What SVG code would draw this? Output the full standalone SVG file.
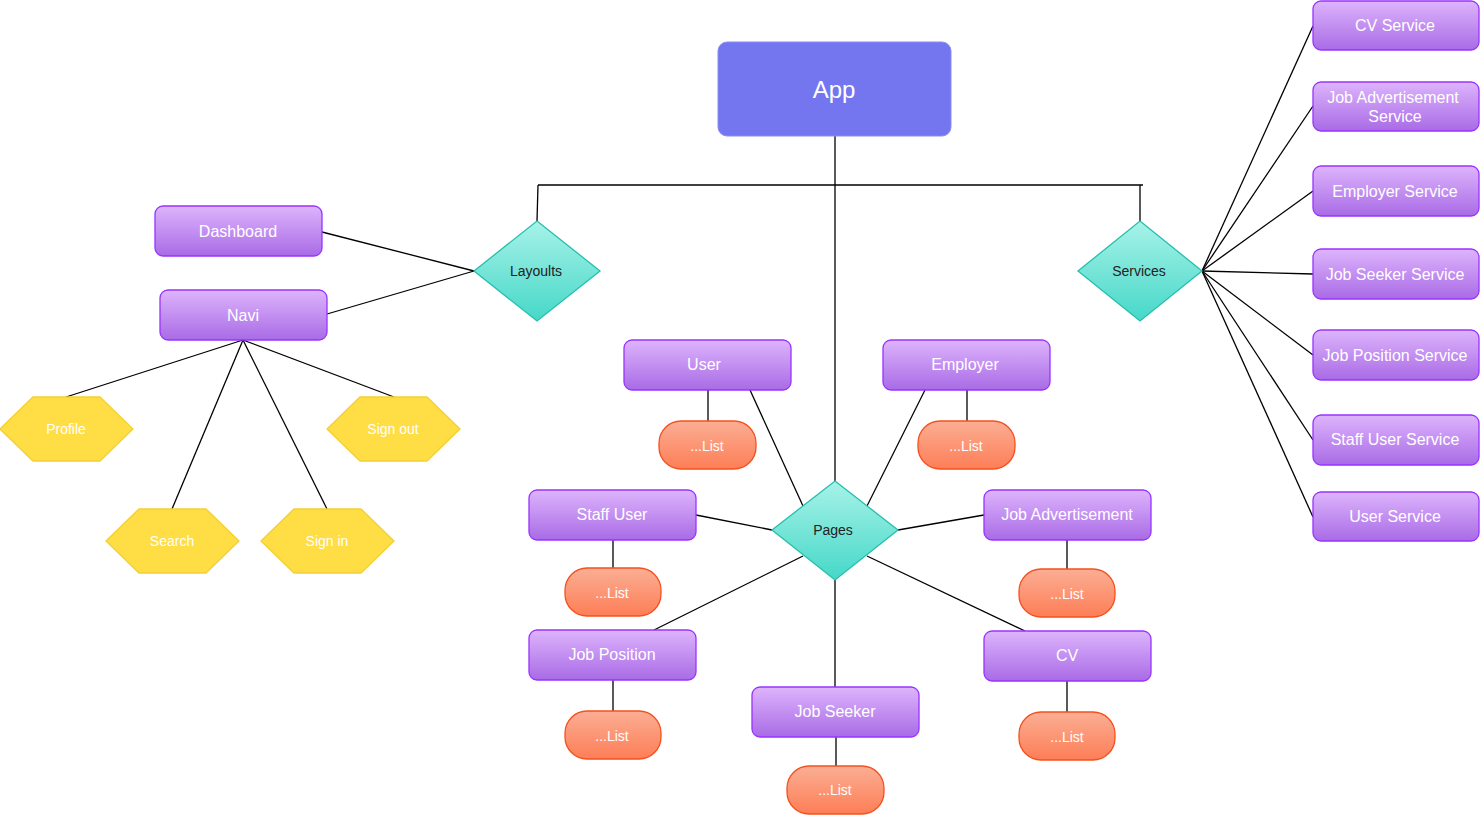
<svg xmlns="http://www.w3.org/2000/svg" width="1480" height="815" viewBox="0 0 1480 815">
<defs>
<linearGradient id="gP" x1="0" y1="0" x2="0" y2="1"><stop offset="0" stop-color="#DDB4FC"/><stop offset="1" stop-color="#A96BE6"/></linearGradient>
<linearGradient id="gO" x1="0" y1="0" x2="0" y2="1"><stop offset="0" stop-color="#FBAE94"/><stop offset="1" stop-color="#FD7E56"/></linearGradient>
<linearGradient id="gT" x1="0" y1="0" x2="0" y2="1"><stop offset="0" stop-color="#A8F2E8"/><stop offset="1" stop-color="#45D8C8"/></linearGradient>
</defs>
<style>
.p{fill:url(#gP);stroke:#9933FF;stroke-width:1.3}
.o{fill:url(#gO);stroke:#F4511E;stroke-width:1.3}
.d{fill:url(#gT);stroke:#26BFAD;stroke-width:1.3}
.h{fill:#FFDD44;stroke:#F5D033;stroke-width:1.3}
.c line,.c polyline{stroke:#000;stroke-width:1.3;fill:none}
text{font-family:"Liberation Sans",Arial,sans-serif;text-anchor:middle;dominant-baseline:central}
.tw{fill:#fff;font-size:16px}
.ts{fill:#fff;font-size:14px}
.td{fill:#222;font-size:14px}
</style>
<rect width="1480" height="815" fill="#fff"/>
<g class="c" id="connectors">
<line x1="835" y1="136" x2="835" y2="481"/>
<line x1="538" y1="185" x2="1143" y2="185"/>
<line x1="538" y1="185" x2="537" y2="221"/>
<line x1="1140" y1="185" x2="1140" y2="221"/>
<line x1="322" y1="232" x2="474" y2="271"/>
<line x1="327" y1="314" x2="474" y2="271"/>
<line x1="243" y1="340" x2="66" y2="397"/>
<line x1="243" y1="340" x2="172" y2="509"/>
<line x1="243" y1="340" x2="327" y2="509"/>
<line x1="243" y1="340" x2="394" y2="397"/>
<line x1="708" y1="390" x2="708" y2="421"/>
<line x1="750" y1="390" x2="803" y2="506"/>
<line x1="925" y1="390" x2="867" y2="506"/>
<line x1="967" y1="390" x2="967" y2="421"/>
<line x1="696" y1="515" x2="772" y2="530"/>
<line x1="984" y1="515" x2="898" y2="530"/>
<line x1="803" y1="556" x2="654" y2="630"/>
<line x1="867" y1="556" x2="1025" y2="631"/>
<line x1="835" y1="580" x2="835" y2="687"/>
<line x1="613" y1="540" x2="613" y2="568"/>
<line x1="1067" y1="540" x2="1067" y2="569"/>
<line x1="613" y1="680" x2="613" y2="711"/>
<line x1="1067" y1="681" x2="1067" y2="712"/>
<line x1="836" y1="737" x2="836" y2="766"/>
<line x1="1202" y1="271" x2="1313" y2="26"/>
<line x1="1202" y1="271" x2="1313" y2="106"/>
<line x1="1202" y1="271" x2="1313" y2="191"/>
<line x1="1202" y1="271" x2="1313" y2="274"/>
<line x1="1202" y1="271" x2="1313" y2="355"/>
<line x1="1202" y1="271" x2="1313" y2="440"/>
<line x1="1202" y1="271" x2="1313" y2="517"/>
</g>
<g id="app"><rect x="718" y="42" width="233" height="94" rx="9" fill="#7476F0" stroke="#8A8CF5" stroke-width="1"/><text x="834" y="89" fill="#fff" font-size="24">App</text></g>
<g id="layouts"><polygon class="d" points="537,221 600,271 537,321 474,271"/><text class="td" x="536" y="271">Layoults</text></g>
<g id="services"><polygon class="d" points="1140,221 1202,271 1140,321 1078,271"/><text class="td" x="1139" y="271">Services</text></g>
<g id="pages"><polygon class="d" points="835,481 898,530 835,580 772,530"/><text class="td" x="833" y="530">Pages</text></g>
<g id="dashboard"><rect class="p" x="155" y="206" width="167" height="50" rx="8"/><text class="tw" x="238" y="231">Dashboard</text></g>
<g id="navi"><rect class="p" x="160" y="290" width="167" height="50" rx="8"/><text class="tw" x="243" y="315">Navi</text></g>
<g id="profile"><polygon class="h" points="0,429 33,397 100,397 133,429 100,461 33,461"/><text class="ts" x="66" y="429">Profile</text></g>
<g id="signout"><polygon class="h" points="327,429 360,397 427,397 460,429 427,461 360,461"/><text class="ts" x="393" y="429">Sign out</text></g>
<g id="search"><polygon class="h" points="106,541 139,509 206,509 239,541 206,573 139,573"/><text class="ts" x="172" y="541">Search</text></g>
<g id="signin"><polygon class="h" points="261,541 294,509 361,509 394,541 361,573 294,573"/><text class="ts" x="327" y="541">Sign in</text></g>
<g id="user"><rect class="p" x="624" y="340" width="167" height="50" rx="8"/><text class="tw" x="704" y="364">User</text></g>
<g id="user-list"><rect class="o" x="659" y="421" width="97" height="48" rx="22"/><text class="ts" x="707" y="446">...List</text></g>
<g id="employer"><rect class="p" x="883" y="340" width="167" height="50" rx="8"/><text class="tw" x="965" y="364">Employer</text></g>
<g id="employer-list"><rect class="o" x="918" y="421" width="97" height="48" rx="22"/><text class="ts" x="966" y="446">...List</text></g>
<g id="staffuser"><rect class="p" x="529" y="490" width="167" height="50" rx="8"/><text class="tw" x="612" y="514">Staff User</text></g>
<g id="staffuser-list"><rect class="o" x="565" y="568" width="96" height="48" rx="22"/><text class="ts" x="612" y="593">...List</text></g>
<g id="jobad"><rect class="p" x="984" y="490" width="167" height="50" rx="8"/><text class="tw" x="1067" y="514">Job Advertisement</text></g>
<g id="jobad-list"><rect class="o" x="1019" y="569" width="96" height="48" rx="22"/><text class="ts" x="1067" y="594">...List</text></g>
<g id="jobposition"><rect class="p" x="529" y="630" width="167" height="50" rx="8"/><text class="tw" x="612" y="654">Job Position</text></g>
<g id="jobposition-list"><rect class="o" x="565" y="711" width="96" height="48" rx="22"/><text class="ts" x="612" y="736">...List</text></g>
<g id="cv"><rect class="p" x="984" y="631" width="167" height="50" rx="8"/><text class="tw" x="1067" y="655">CV</text></g>
<g id="cv-list"><rect class="o" x="1019" y="712" width="96" height="48" rx="22"/><text class="ts" x="1067" y="737">...List</text></g>
<g id="jobseeker"><rect class="p" x="752" y="687" width="167" height="50" rx="8"/><text class="tw" x="835" y="711">Job Seeker</text></g>
<g id="jobseeker-list"><rect class="o" x="787" y="766" width="97" height="48" rx="22"/><text class="ts" x="835" y="790">...List</text></g>
<g id="cvservice"><rect class="p" x="1313" y="1" width="166" height="49" rx="8"/><text class="tw" x="1395" y="25">CV Service</text></g>
<g id="jobadservice"><rect class="p" x="1313" y="82" width="166" height="49" rx="8"/><text class="tw" x="1393" y="97">Job Advertisement</text><text class="tw" x="1395" y="116">Service</text></g>
<g id="employerservice"><rect class="p" x="1313" y="166" width="166" height="50" rx="8"/><text class="tw" x="1395" y="191">Employer Service</text></g>
<g id="jobseekerservice"><rect class="p" x="1313" y="249" width="166" height="50" rx="8"/><text class="tw" x="1395" y="274">Job Seeker Service</text></g>
<g id="jobpositionservice"><rect class="p" x="1313" y="330" width="166" height="50" rx="8"/><text class="tw" x="1395" y="355">Job Position Service</text></g>
<g id="staffuserservice"><rect class="p" x="1313" y="415" width="166" height="50" rx="8"/><text class="tw" x="1395" y="439">Staff User Service</text></g>
<g id="userservice"><rect class="p" x="1313" y="492" width="166" height="49" rx="8"/><text class="tw" x="1395" y="516">User Service</text></g>
</svg>
